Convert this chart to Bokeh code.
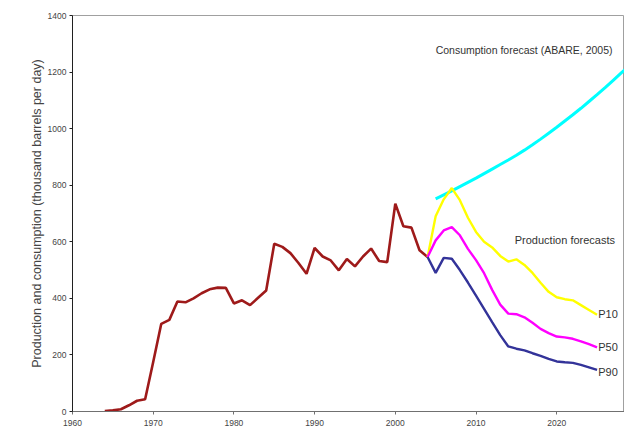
from bokeh.plotting import figure
from bokeh.models import Range1d, FixedTicker, Label
from bokeh.embed import file_html
from bokeh.resources import INLINE
from bokeh.core.properties import value

# Historical production (thousand barrels per day)
hist_years = list(range(1964, 2005))
hist_values = [2, 4, 8, 22, 38, 43, 175, 310, 324, 389,
               386, 400, 418, 432, 438, 437, 382, 393, 376, 402,
               428, 593, 582, 560, 525, 487, 578, 548, 534, 499,
               539, 513, 548, 576, 532, 528, 735, 655, 650, 570,
               546]

# Production forecasts
fc_years = list(range(2004, 2026))
p10 = [546, 690, 750, 790, 747, 685, 635, 600, 580, 550,
       530, 538, 518, 490, 455, 423, 404, 397, 393, 376,
       359, 342]
p50 = [546, 605, 640, 652, 623, 575, 535, 489, 430, 378,
       346, 344, 333, 314, 292, 277, 265, 262, 257, 248,
       238, 227]
p90 = [546, 490, 543, 540, 500, 456, 410, 363, 316, 270,
       230, 222, 216, 206, 197, 186, 177, 174, 172, 165,
       156, 147]

# Consumption forecast (ABARE)
cons_years = list(range(2005, 2031))
cons_values = [752, 766, 780, 795, 810, 825, 841, 857, 873, 889,
               906, 924, 943, 963, 984, 1005, 1027, 1049, 1072, 1096,
               1120, 1145, 1171, 1197, 1223, 1250]

x_ticks = [1960, 1970, 1980, 1990, 2000, 2010, 2020]
y_ticks = [0, 200, 400, 600, 800, 1000, 1200, 1400]

FONT = "Liberation Sans"

p = figure(width=624, height=448, output_backend="svg", toolbar_location=None,
           x_range=Range1d(1960, 2028.4), y_range=Range1d(0, 1400),
           min_border_left=72, min_border_right=0, min_border_top=15,
           min_border_bottom=37)
p.background_fill_color = "white"
p.border_fill_color = "white"
p.outline_line_color = "#a0a0a0"
p.outline_line_width = 1
p.xgrid.visible = False
p.ygrid.visible = False

p.line(hist_years, hist_values, line_color="#9e1a1a", line_width=2.6)
p.line(cons_years, cons_values, line_color="#00ffff", line_width=3)
p.line(fc_years, p10, line_color="#ffff00", line_width=2.4)
p.line(fc_years, p50, line_color="#ff00ff", line_width=2.4)
p.line(fc_years, p90, line_color="#333399", line_width=2.4)

# axes
p.xaxis.ticker = FixedTicker(ticks=x_ticks)
p.yaxis.ticker = FixedTicker(ticks=y_ticks)
for ax in (p.xaxis[0], p.yaxis[0]):
    ax.major_label_text_font = FONT
    ax.major_label_text_font_size = "8.5px"
    ax.major_label_text_color = "#444444"
    ax.minor_tick_line_color = None
    ax.major_tick_in = 0
    ax.major_tick_out = 3
p.xaxis.axis_line_color = "#707070"
p.xaxis.major_tick_line_color = "#707070"
p.yaxis.axis_line_color = "#202020"
p.yaxis.major_tick_line_color = "#202020"
p.yaxis.major_label_standoff = 3
p.xaxis.major_label_standoff = 5

p.yaxis.axis_label = "Production and consumption (thousand barrels per day)"
p.yaxis.axis_label_text_font = FONT
p.yaxis.axis_label_text_font_size = "12.5px"
p.yaxis.axis_label_text_font_style = "normal"
p.yaxis.axis_label_text_color = "#444444"
p.yaxis.axis_label_standoff = 1

p.add_layout(Label(x=1995.4, y=-104, text="Year", text_font=FONT,
                   text_font_size="11px", text_color="#444444",
                   text_align="center", text_baseline="middle"))

# annotations inside the plot
p.text(x=[2005.0], y=[1277], text=["Consumption forecast (ABARE, 2005)"],
       text_font=value(FONT), text_font_size="10.5px", text_color="#333333",
       text_align="left", text_baseline="middle")
p.text(x=[2014.8], y=[605], text=["Production forecasts"],
       text_font=value(FONT), text_font_size="11px", text_color="#333333",
       text_align="left", text_baseline="middle")
p.text(x=[2025.15, 2025.15, 2025.15], y=[343, 229, 140],
       text=["P10", "P50", "P90"],
       text_font=value(FONT), text_font_size="11px", text_color="#333333",
       text_align="left", text_baseline="middle")

open("out.html", "w").write(file_html(p, INLINE))
